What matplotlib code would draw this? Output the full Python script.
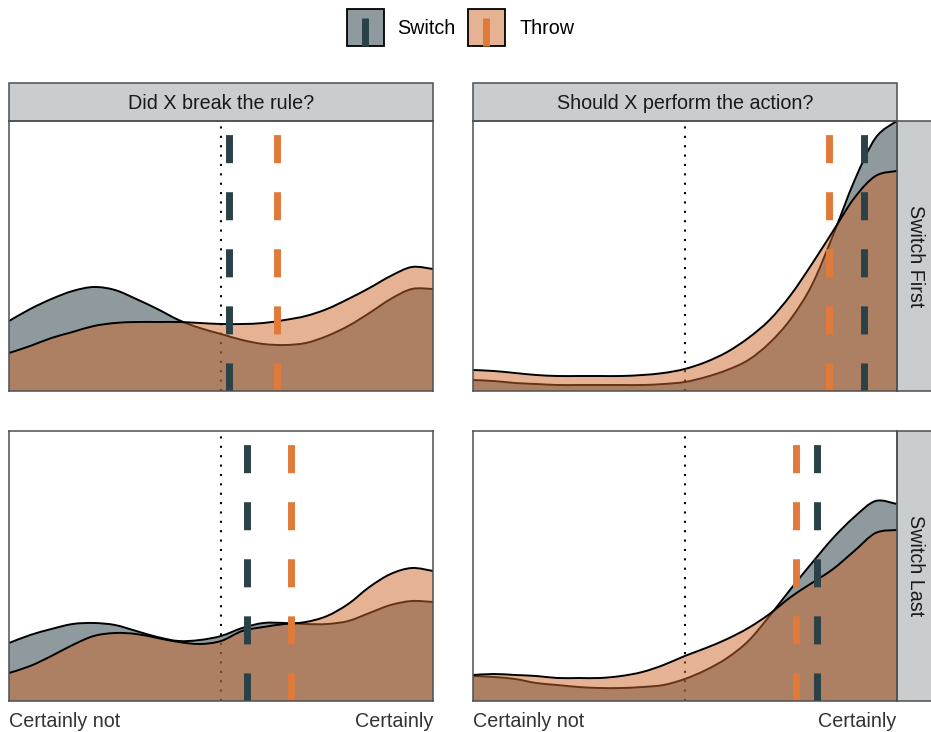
import numpy as np
import matplotlib.pyplot as plt
from matplotlib.path import Path
from matplotlib.patches import PathPatch, Rectangle
from matplotlib.lines import Line2D

plt.rcParams["font.family"] = ["Liberation Sans", "DejaVu Sans"]

# response scale positions where the densities were read (0 = certainly not, 1 = certainly)
x_grid = [0.00, 0.05, 0.10, 0.15, 0.20, 0.25, 0.30, 0.35, 0.40, 0.45, 0.50,
          0.55, 0.60, 0.65, 0.70, 0.75, 0.80, 0.85, 0.90, 0.95, 1.00]

questions = ["Did X break the rule?", "Should X perform the action?"]
orders = ["Switch First", "Switch Last"]
conditions = ["Switch", "Throw"]
tick_labels = ["Certainly not", "Certainly"]
midpoint = 0.5

# density estimates per panel (row = order, col = question)
switch_rule_first = [0.70, 0.82, 0.92, 1.00, 1.04, 1.01, 0.92, 0.82, 0.71, 0.63, 0.57,
                     0.51, 0.47, 0.46, 0.48, 0.55, 0.65, 0.78, 0.92, 1.02, 1.02]
throw_rule_first = [0.38, 0.45, 0.53, 0.59, 0.65, 0.68, 0.69, 0.69, 0.69, 0.68, 0.67,
                    0.67, 0.68, 0.71, 0.75, 0.82, 0.92, 1.03, 1.15, 1.24, 1.22]
switch_action_first = [0.11, 0.10, 0.08, 0.07, 0.06, 0.06, 0.06, 0.06, 0.06, 0.07, 0.09,
                       0.14, 0.21, 0.31, 0.48, 0.72, 1.06, 1.56, 2.10, 2.53, 2.70]
throw_action_first = [0.21, 0.20, 0.18, 0.16, 0.15, 0.15, 0.15, 0.15, 0.16, 0.18, 0.22,
                      0.29, 0.39, 0.53, 0.71, 0.96, 1.27, 1.60, 1.93, 2.15, 2.20]
switch_rule_last = [0.58, 0.66, 0.72, 0.77, 0.78, 0.76, 0.70, 0.64, 0.60, 0.61, 0.65,
                    0.73, 0.78, 0.78, 0.77, 0.77, 0.80, 0.88, 0.96, 1.00, 0.99]
throw_rule_last = [0.28, 0.35, 0.45, 0.56, 0.65, 0.68, 0.67, 0.63, 0.59, 0.57, 0.60,
                   0.70, 0.74, 0.77, 0.79, 0.85, 0.97, 1.14, 1.27, 1.33, 1.30]
switch_action_last = [0.25, 0.24, 0.22, 0.18, 0.16, 0.14, 0.13, 0.13, 0.14, 0.16, 0.22,
                      0.31, 0.43, 0.60, 0.85, 1.12, 1.38, 1.63, 1.84, 2.00, 1.97]
throw_action_last = [0.26, 0.27, 0.26, 0.25, 0.23, 0.23, 0.23, 0.25, 0.29, 0.36, 0.45,
                     0.53, 0.62, 0.73, 0.87, 1.04, 1.18, 1.32, 1.50, 1.68, 1.71]

# condition means
switch_means = [[0.519, 0.924], [0.5625, 0.812]]
throw_means = [[0.632, 0.841], [0.664, 0.763]]

densities = {
    (0, 0): (switch_rule_first, throw_rule_first),
    (0, 1): (switch_action_first, throw_action_first),
    (1, 0): (switch_rule_last, throw_rule_last),
    (1, 1): (switch_action_last, throw_action_last),
}

switch_col = "#2b4148"
throw_fill = "#cd6729"
throw_line = "#e07a3a"
strip_bg = "#c9cdcf"
border = "#4a4f52"
fs = 14.2

W, H = 931, 732


def smooth(xs, ys):
    pts = np.column_stack([xs, ys])
    ext = np.vstack([pts[0], pts, pts[-1]])
    verts = [pts[0]]
    codes = [Path.MOVETO]
    for i in range(len(pts) - 1):
        p0, p1, p2, p3 = ext[i], ext[i + 1], ext[i + 2], ext[i + 3]
        verts += [p1 + (p2 - p0) / 6, p2 - (p3 - p1) / 6, p2]
        codes += [Path.CURVE4] * 3
    return verts, codes


def density(ax, ys, fc, alpha):
    verts, codes = smooth(x_grid, ys)
    fill_v = verts + [(x_grid[-1], 0), (x_grid[0], 0), verts[0]]
    fill_c = codes + [Path.LINETO, Path.LINETO, Path.CLOSEPOLY]
    ax.add_patch(PathPatch(Path(fill_v, fill_c), facecolor=fc, alpha=alpha,
                           edgecolor="none", zorder=2))
    ax.add_patch(PathPatch(Path(verts, codes), facecolor="none",
                           edgecolor="black", lw=1.4, zorder=2))


ymax = max(max(v) for pair in densities.values() for v in pair)

fig = plt.figure(figsize=(W / 100, H / 100), dpi=100)

lefts = [9, 472.7]
tops = [121, 431]
pw, ph = 424, 270

for r in range(2):
    for c in range(2):
        ax = fig.add_axes([lefts[c] / W, 1 - (tops[r] + ph) / H, pw / W, ph / H])
        ax.set_xlim(0, 1)
        ax.set_ylim(0, ymax)
        ax.axvline(midpoint, color="black", lw=1.5, dashes=(1, 3.5), zorder=1)
        sw, th = densities[(r, c)]
        density(ax, sw, switch_col, 0.53)
        density(ax, th, throw_fill, 0.5)
        ax.axvline(switch_means[r][c], color=switch_col, lw=5, dashes=(4.04, 4.18),
                   dash_capstyle="butt", zorder=5)
        ax.axvline(throw_means[r][c], color=throw_line, lw=5, dashes=(4.04, 4.18),
                   dash_capstyle="butt", zorder=5)
        for s in ax.spines.values():
            s.set_color(border)
            s.set_linewidth(1.1)
            s.set_zorder(6)
        ax.set_yticks([])
        ax.set_xticks([0, 1])
        ax.tick_params(axis="x", length=0, pad=8)
        if r == 1:
            labs = ax.set_xticklabels(tick_labels, fontsize=fs, color="#333333")
            labs[0].set_ha("left")
            labs[1].set_ha("right")
        else:
            ax.set_xticklabels([])
        if r == 0:
            sh = 38 / ph
            ax.add_patch(Rectangle((0, 1), 1, sh, transform=ax.transAxes, clip_on=False,
                                   facecolor=strip_bg, edgecolor=border, lw=1.1))
            ax.text(0.5, 1 + sh / 2 - 0.004, questions[c], transform=ax.transAxes,
                    ha="center", va="center", fontsize=fs, color="#1a1a1a")
        if c == 1:
            sw_ = 38 / pw
            ax.add_patch(Rectangle((1, 0), sw_, 1, transform=ax.transAxes, clip_on=False,
                                   facecolor=strip_bg, edgecolor=border, lw=1.1))
            ax.text(1 + sw_ / 2, 0.5, orders[r], transform=ax.transAxes, rotation=-90,
                    ha="center", va="center", fontsize=fs, color="#1a1a1a")

# legend
key_x = [347, 468]
text_x = [397, 519]
key_fill = [(switch_col, 0.53), (throw_fill, 0.5)]
key_line = [switch_col, throw_line]
for i, name in enumerate(conditions):
    kx = key_x[i]
    fig.patches.append(Rectangle((kx / W, 1 - 45.7 / H), 36.5 / W, 37 / H,
                                 transform=fig.transFigure, facecolor=key_fill[i],
                                 edgecolor="black", lw=1.3))
    fig.lines.append(Line2D([(kx + 18.25) / W] * 2, [1 - 45.7 / H, 1 - 17.7 / H],
                            transform=fig.transFigure, color=key_line[i], lw=5,
                            solid_capstyle="butt"))
    fig.text(text_x[i] / W, 1 - 28 / H, name, ha="left", va="center", fontsize=fs,
             color="black")

fig.savefig("out.png", dpi=100)
